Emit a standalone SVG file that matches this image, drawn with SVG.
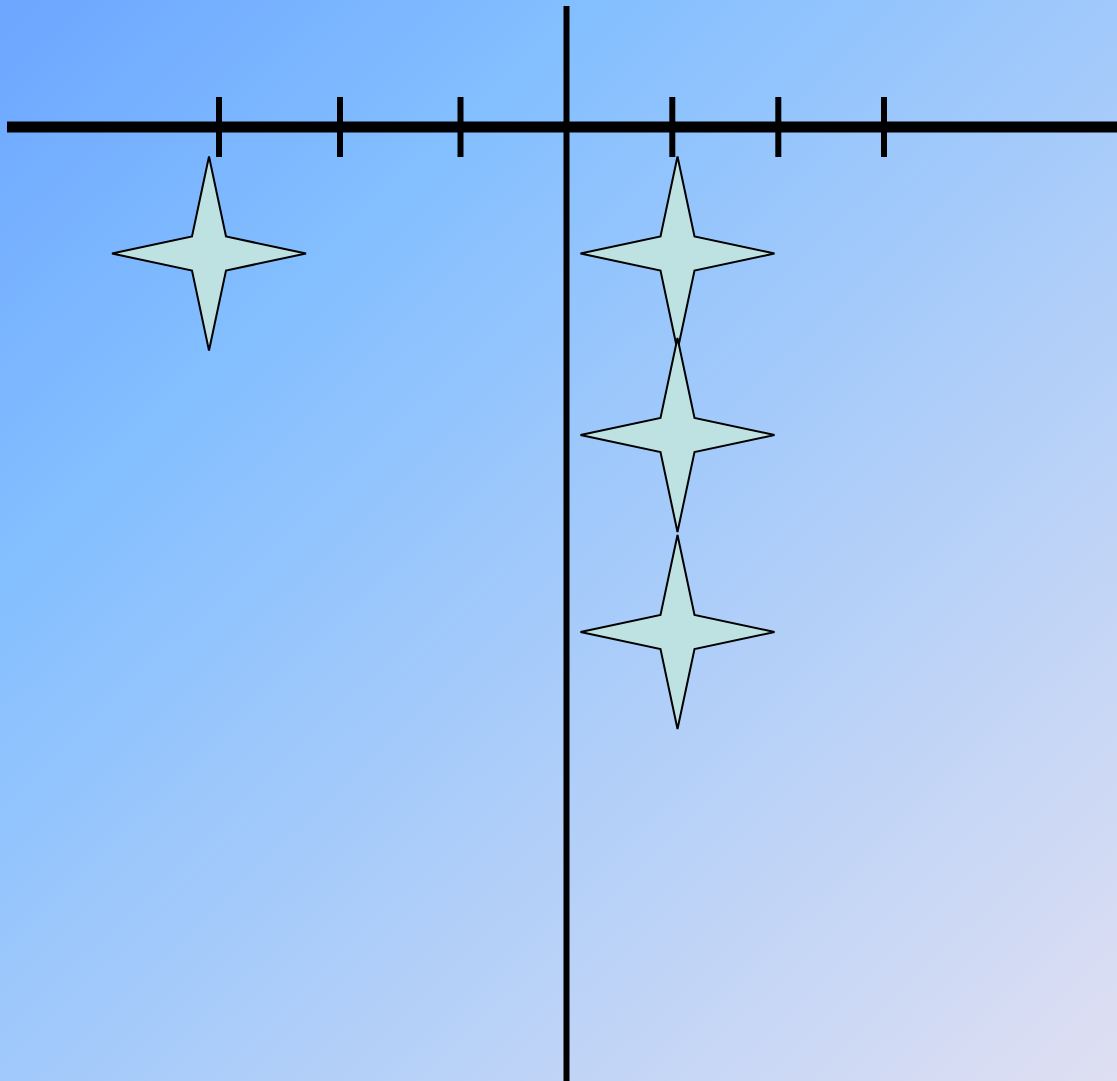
<svg xmlns="http://www.w3.org/2000/svg" width="1117" height="1081" viewBox="0 0 1117 1081">
<defs>
<linearGradient id="bg" x1="0" y1="0" x2="1" y2="1">
<stop offset="0" stop-color="#6ca6ff"/>
<stop offset="0.27" stop-color="#84bfff"/>
<stop offset="1" stop-color="#dfdff2"/>
</linearGradient>
<path id="star" d="M0,-97 L17,-17 L97,0 L17,17 L0,97 L-17,17 L-97,0 L-17,-17 Z"/>
</defs>
<style>
.axis{stroke:#000;fill:none}
.tick{stroke:#000;stroke-width:6}
.star{fill:#bee1e1;stroke:#000;stroke-width:2}
</style>
<rect width="1117" height="1081" fill="url(#bg)"/>
<g id="axes">
<line class="axis" x1="7" y1="127" x2="1117" y2="127" stroke-width="11"/>
<line class="axis" x1="566.5" y1="6" x2="566.5" y2="1081" stroke-width="6"/>
<line class="tick" x1="219" y1="97" x2="219" y2="157"/>
<line class="tick" x1="340" y1="97" x2="340" y2="157"/>
<line class="tick" x1="460.5" y1="97" x2="460.5" y2="157"/>
<line class="tick" x1="672.3" y1="97" x2="672.3" y2="157"/>
<line class="tick" x1="778.3" y1="97" x2="778.3" y2="157"/>
<line class="tick" x1="884" y1="97" x2="884" y2="157"/>
</g>
<g id="star1"><use href="#star" class="star" x="209" y="253.5"/></g>
<g id="star2"><use href="#star" class="star" x="677.5" y="253.5"/></g>
<g id="star3"><use href="#star" class="star" x="677.5" y="435"/></g>
<g id="star4"><use href="#star" class="star" x="677.5" y="632"/></g>
</svg>
